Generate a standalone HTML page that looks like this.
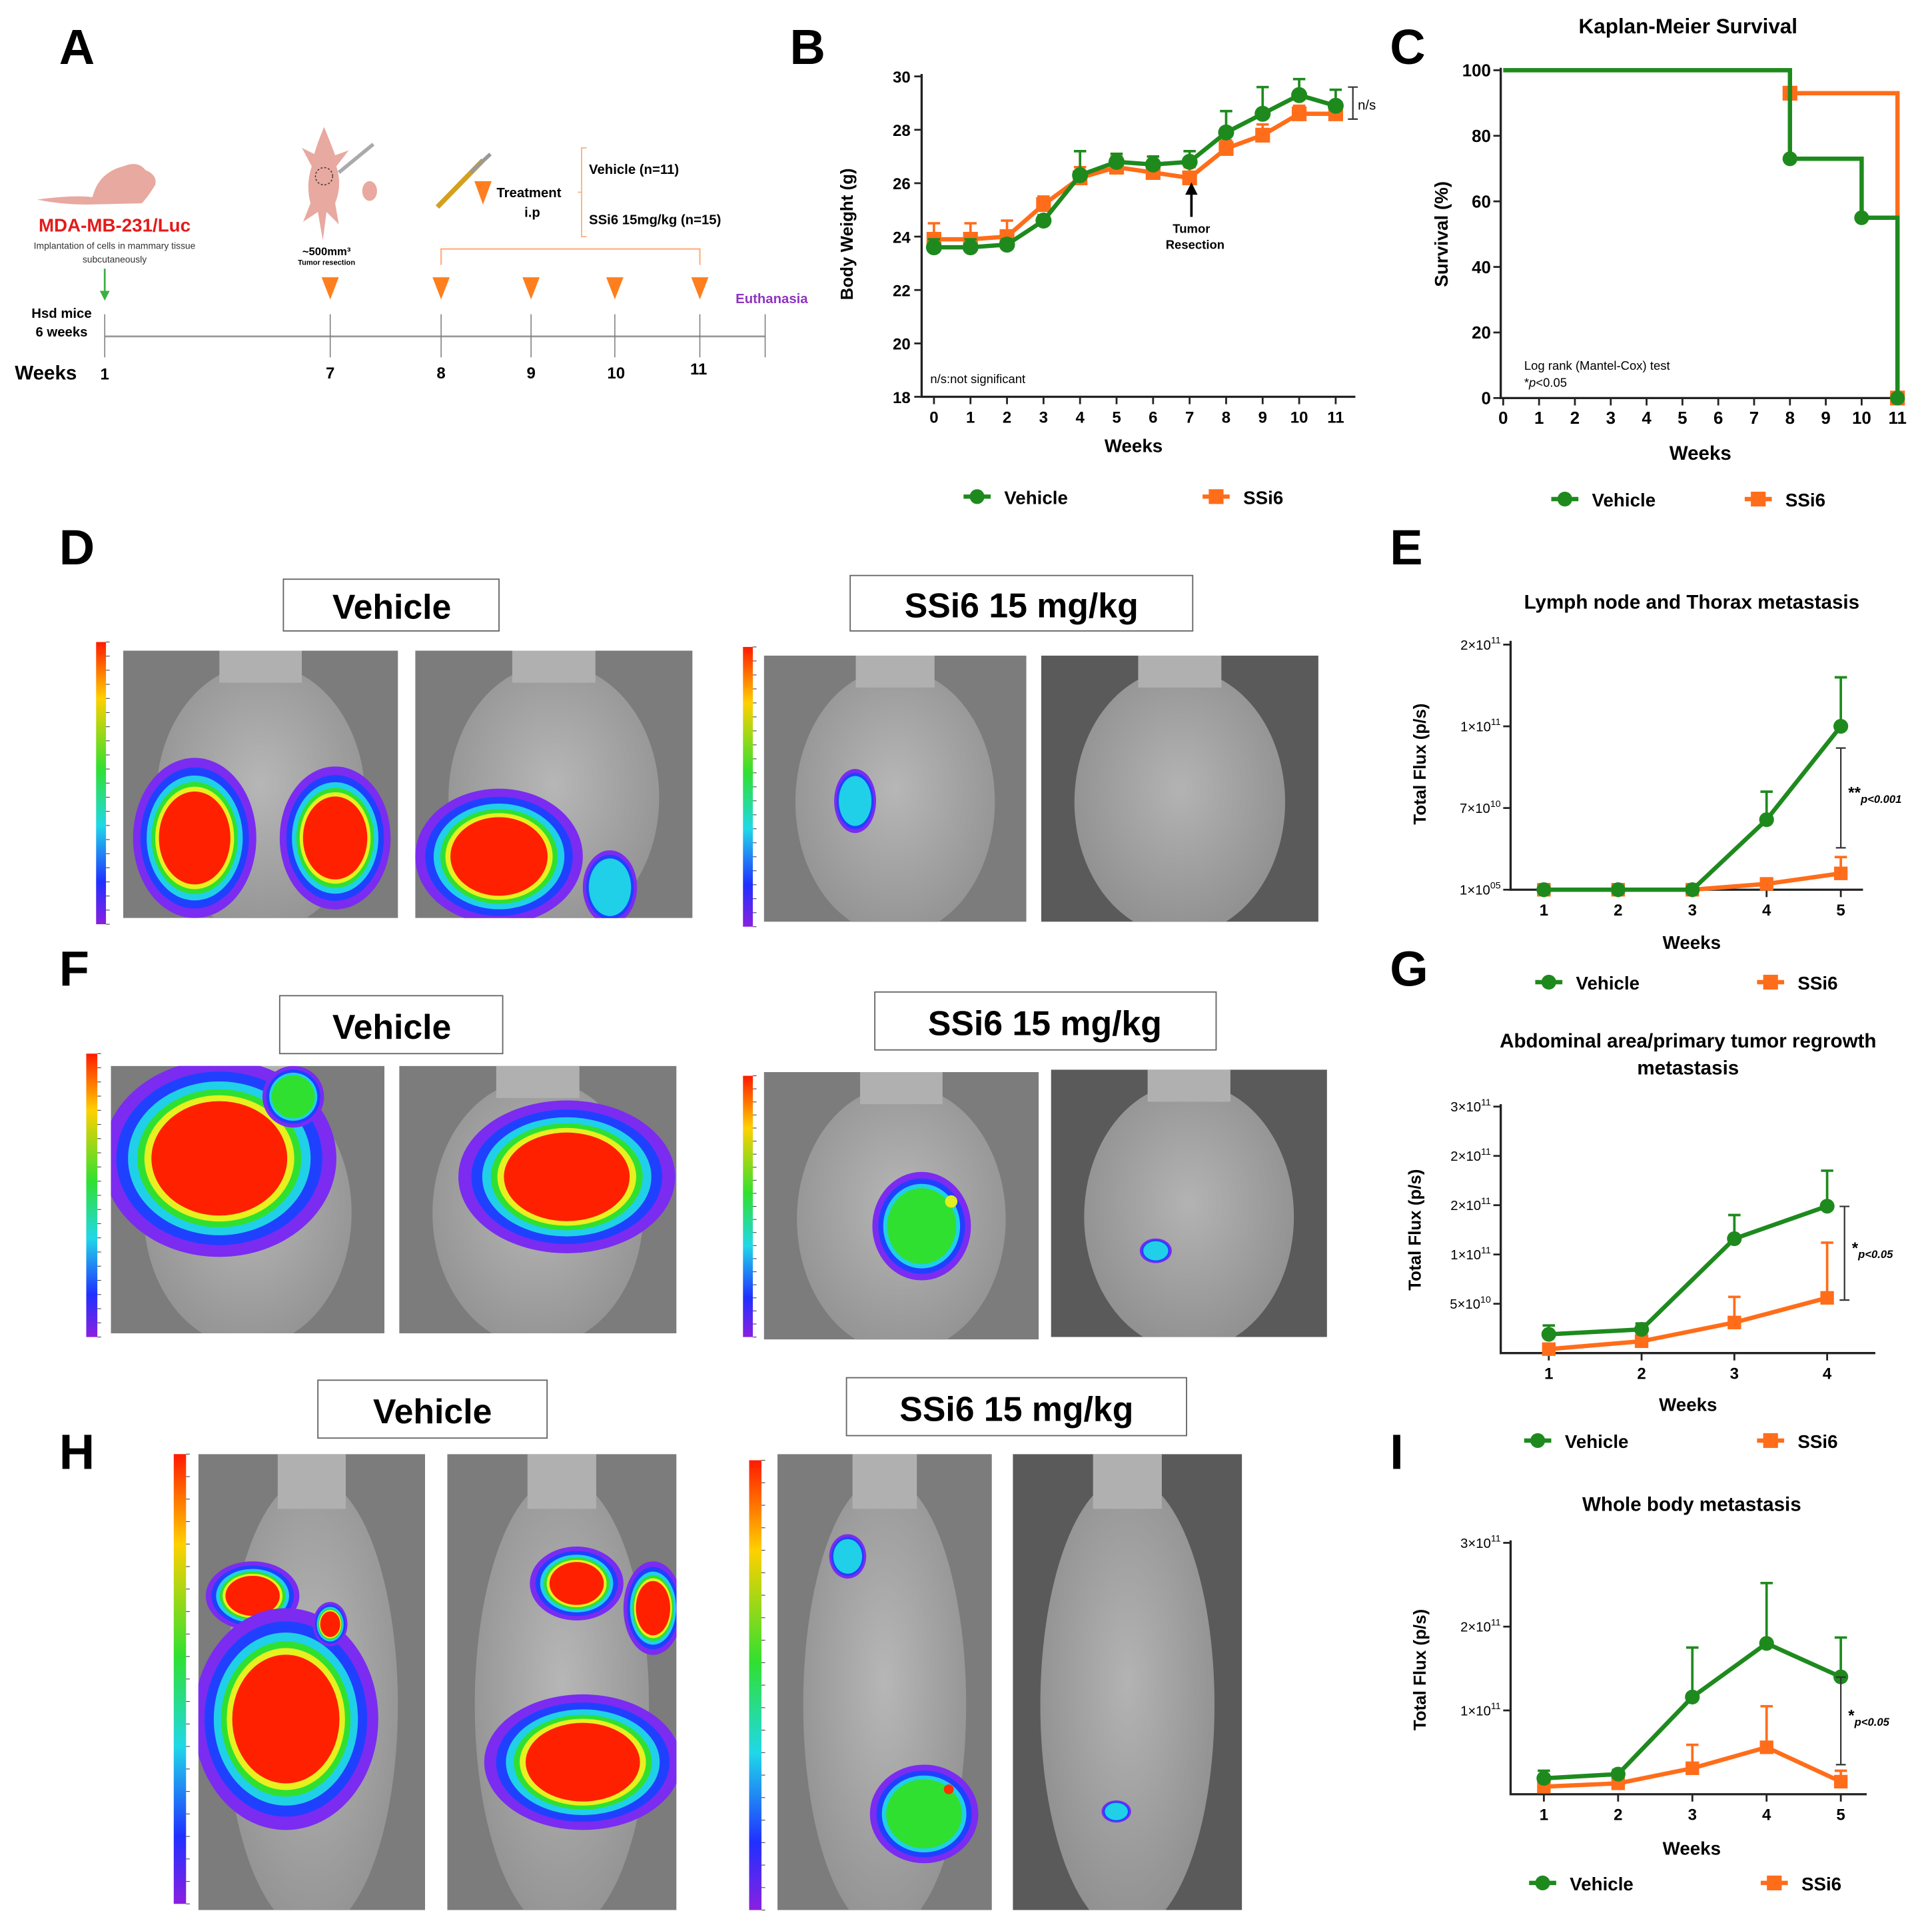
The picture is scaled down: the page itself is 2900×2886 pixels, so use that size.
<!DOCTYPE html>
<html><head><meta charset="utf-8"><style>
html,body{margin:0;padding:0;background:#fff;}
svg{display:block;font-family:"Liberation Sans",sans-serif;}
.b{font-weight:bold;}
</style></head><body>
<svg id="fig" width="2900" height="2886" viewBox="0 0 1568 1560.5" preserveAspectRatio="none" xmlns="http://www.w3.org/2000/svg">
<defs id="defs">
<linearGradient id="cbar" x1="0" y1="0" x2="0" y2="1">
<stop offset="0" stop-color="#ff1a00"/><stop offset="0.2" stop-color="#ffd000"/><stop offset="0.45" stop-color="#30e030"/><stop offset="0.65" stop-color="#20d8e8"/><stop offset="0.85" stop-color="#2030ff"/><stop offset="1" stop-color="#8a20e0"/>
</linearGradient>
<radialGradient id="body" cx="0.5" cy="0.45" r="0.6"><stop offset="0" stop-color="#bdbdbd"/><stop offset="1" stop-color="#939393"/></radialGradient>
</defs>
<text x="48" y="52" class="b" font-size="40">A</text>
<text x="641" y="52" class="b" font-size="40">B</text>
<text x="1128" y="52" class="b" font-size="40">C</text>
<text x="48" y="458" class="b" font-size="40">D</text>
<text x="1128" y="458" class="b" font-size="40">E</text>
<text x="48" y="800" class="b" font-size="40">F</text>
<text x="1128" y="800" class="b" font-size="40">G</text>
<text x="48" y="1192" class="b" font-size="40">H</text>
<text x="1128" y="1192" class="b" font-size="40">I</text>

<g>
<path d="M30,162 Q60,158 75,160 Q80,140 100,135 Q112,130 118,138 Q128,142 126,150 Q120,160 115,165 L70,166 Q50,166 30,162Z" fill="#e8a9a0"/>
<text x="93" y="188" text-anchor="middle" class="b" font-size="15" fill="#e41a1a">MDA-MB-231/Luc</text>
<text x="93" y="202" text-anchor="middle" font-size="7.5" fill="#333">Implantation of cells in mammary tissue</text>
<text x="93" y="213" text-anchor="middle" font-size="7.5" fill="#333">subcutaneously</text>
<line x1="85" y1="218" x2="85" y2="240" stroke="#3cb043" stroke-width="1.5"/>
<path d="M81,236 L85,244 L89,236Z" fill="#3cb043"/>
<text x="50" y="258" text-anchor="middle" class="b" font-size="11">Hsd mice</text>
<text x="50" y="273" text-anchor="middle" class="b" font-size="11">6 weeks</text>
<line x1="85" y1="273" x2="621" y2="273" stroke="#999" stroke-width="1.5"/>
<g stroke="#777" stroke-width="0.8">
<line x1="85" y1="255" x2="85" y2="290"/><line x1="268" y1="255" x2="268" y2="290"/><line x1="358" y1="255" x2="358" y2="290"/><line x1="431" y1="255" x2="431" y2="290"/><line x1="499" y1="255" x2="499" y2="290"/><line x1="568" y1="255" x2="568" y2="290"/><line x1="621" y1="255" x2="621" y2="290"/>
</g>
<text x="12" y="308" class="b" font-size="16">Weeks</text>
<g class="b" font-size="13" text-anchor="middle">
<text x="85" y="308">1</text><text x="268" y="307">7</text><text x="358" y="307">8</text><text x="431" y="307">9</text><text x="500" y="307">10</text><text x="567" y="304">11</text></g>
<g fill="#ff7f1e">
<path d="M261,225 L275,225 L268,243Z"/><path d="M351,225 L365,225 L358,243Z"/><path d="M424,225 L438,225 L431,243Z"/><path d="M492,225 L506,225 L499,243Z"/><path d="M561,225 L575,225 L568,243Z"/><path d="M385,147 L399,147 L392,166Z"/></g>
<path d="M358,215 L358,202 L568,202 L568,215" fill="none" stroke="#ffb080" stroke-width="1.2"/>
<text x="597" y="246" class="b" font-size="11" fill="#8e35c0">Euthanasia</text>
<path d="M263,103 Q258,115 255,125 L245,120 L253,135 Q248,150 252,165 L246,180 L258,172 L262,195 L265,172 L275,182 L272,165 Q278,150 273,135 L283,122 L272,126 Q268,115 263,103Z" fill="#e8a9a0"/>
<circle cx="263" cy="143" r="7" fill="none" stroke="#333" stroke-dasharray="1.5,1.5" stroke-width="0.8"/>
<line x1="275" y1="140" x2="303" y2="117" stroke="#aaa" stroke-width="3"/>
<ellipse cx="300" cy="155" rx="6" ry="8" fill="#e8a9a0"/>
<text x="265" y="207" text-anchor="middle" class="b" font-size="9">~500mm³</text>
<text x="265" y="215" text-anchor="middle" class="b" font-size="6">Tumor resection</text>
<line x1="355" y1="168" x2="392" y2="130" stroke="#d4a020" stroke-width="4"/>
<line x1="382" y1="140" x2="398" y2="125" stroke="#999" stroke-width="3"/>
<text x="403" y="160" class="b" font-size="11">Treatment</text>
<text x="432" y="176" text-anchor="middle" class="b" font-size="11">i.p</text>
<path d="M476,120 L472,120 L472,192 L476,192 M472,156 L469,156" fill="none" stroke="#ffb080" stroke-width="1"/>
<text x="478" y="141" class="b" font-size="11">Vehicle (n=11)</text>
<text x="478" y="182" class="b" font-size="11">SSi6 15mg/kg (n=15)</text>
</g>

<text transform="translate(692,190) rotate(-90)" text-anchor="middle" class="b" font-size="14">Body Weight (g)</text>
<text x="920" y="367" text-anchor="middle" class="b" font-size="15">Weeks</text>
<text x="755" y="311" font-size="10">n/s:not significant</text>
<text x="1370" y="27" text-anchor="middle" class="b" font-size="17">Kaplan-Meier Survival</text>
<text transform="translate(1175,190) rotate(-90)" text-anchor="middle" class="b" font-size="15">Survival (%)</text>
<text x="1380" y="373" text-anchor="middle" class="b" font-size="16">Weeks</text>
<text x="1237" y="300" font-size="10">Log rank (Mantel-Cox) test</text>
<text x="1237" y="314" font-size="10">*<tspan font-style="italic">p</tspan>&lt;0.05</text>
<text x="1373" y="494" text-anchor="middle" class="b" font-size="16">Lymph node and Thorax metastasis</text>
<text transform="translate(1157,620) rotate(-90)" text-anchor="middle" class="b" font-size="14">Total Flux (p/s)</text>
<text x="1373" y="770" text-anchor="middle" class="b" font-size="15">Weeks</text>
<text x="1370" y="850" text-anchor="middle" class="b" font-size="16">Abdominal area/primary tumor regrowth</text>
<text x="1370" y="872" text-anchor="middle" class="b" font-size="16">metastasis</text>
<text transform="translate(1153,998) rotate(-90)" text-anchor="middle" class="b" font-size="14">Total Flux (p/s)</text>
<text x="1370" y="1145" text-anchor="middle" class="b" font-size="15">Weeks</text>
<text x="1373" y="1226" text-anchor="middle" class="b" font-size="16">Whole body metastasis</text>
<text transform="translate(1157,1355) rotate(-90)" text-anchor="middle" class="b" font-size="14">Total Flux (p/s)</text>
<text x="1373" y="1505" text-anchor="middle" class="b" font-size="15">Weeks</text>

<g font-size="28" class="b" text-anchor="middle">
<rect x="230" y="470" width="175" height="42" fill="#fff" stroke="#666"/><text x="318" y="502">Vehicle</text>
<rect x="690" y="467" width="278" height="45" fill="#fff" stroke="#666"/><text x="829" y="501">SSi6 15 mg/kg</text>
<rect x="227" y="808" width="181" height="47" fill="#fff" stroke="#666"/><text x="318" y="843">Vehicle</text>
<rect x="710" y="805" width="277" height="47" fill="#fff" stroke="#666"/><text x="848" y="840">SSi6 15 mg/kg</text>
<rect x="258" y="1120" width="186" height="47" fill="#fff" stroke="#666"/><text x="351" y="1155">Vehicle</text>
<rect x="687" y="1118" width="276" height="47" fill="#fff" stroke="#666"/><text x="825" y="1153">SSi6 15 mg/kg</text>
</g>
<g id="photos"></g>
<g id="charts"></g>
</svg>
<script>
const bWeeks=[0,1,2,3,4,5,6,7,8,9,10,11];
const bVehicle=[23.6,23.6,23.7,24.6,26.3,26.8,26.7,26.8,27.9,28.6,29.3,28.9];
const bVehicleErr=[0.3,0.3,0.2,0.2,0.9,0.3,0.3,0.4,0.8,1.0,0.6,0.6];
const bSsi6=[23.9,23.9,24.0,25.2,26.2,26.6,26.4,26.2,27.3,27.8,28.6,28.6];
const bSsi6Err=[0.6,0.6,0.6,0.3,0.4,0.4,0.4,0.4,0.3,0.4,0.3,0.3];
const bYTicks=[18,20,22,24,26,28,30];
const cXTicks=[0,1,2,3,4,5,6,7,8,9,10,11];
const cYTicks=[0,20,40,60,80,100];
const cVehTimes=[0,8,10,11];
const cVehSurv=[100,73,55,0];
const cSsiTimes=[8,11];
const cSsiSurv=[93,0];
const eWeeks=[1,2,3,4,5];
const eVehicle=[1e5,1e5,1e5,6e10,1e11];
const eVehicleErr=[0,0,0,1.6e10,6e10];
const eSsi6=[1e5,1e5,1e5,5e9,1.4e10];
const eSsi6Err=[0,0,0,3e9,1.4e10];
const eTickVals=[1e5,7e10,1e11,2e11];
const eTickMant=["1","7","1","2"];
const eTickExp=["05","10","11","11"];
const gWeeks=[1,2,3,4];
const gVehicle=[1.9e10,2.4e10,1.16e11,1.49e11];
const gVehicleErr=[9e9,6e9,2.4e10,3.6e10];
const gSsi6=[4e9,1.2e10,3.1e10,5.6e10];
const gSsi6Err=[3e9,6e9,2.6e10,5.6e10];
const gTickVals=[5e10,1e11,1.5e11,2e11,2.5e11];
const gTickMant=["5","1","2","2","3"];
const gTickExp=["10","11","11","11","11"];
const iWeeks=[1,2,3,4,5];
const iVehicle=[1.9e10,2.4e10,1.16e11,1.8e11,1.4e11];
const iVehicleErr=[9e9,5e9,5.9e10,7.2e10,4.7e10];
const iSsi6=[9e9,1.3e10,3.1e10,5.6e10,1.5e10];
const iSsi6Err=[3e9,6e9,2.8e10,4.9e10,1.3e10];
const iTickVals=[1e11,2e11,3e11];
const iTickMant=["1","2","3"];
const iTickExp=["11","11","11"];

const NS='http://www.w3.org/2000/svg';
const GREEN='#1e8a1e', ORANGE='#ff6d1a';
function mk(parent,tag,attrs){const e=document.createElementNS(NS,tag);for(const k in attrs)e.setAttribute(k,attrs[k]);parent.appendChild(e);return e;}
const charts=document.getElementById('charts');

function marker(g,x,y,isVeh,s){
  let m;
  if(isVeh){m=mk(g,'circle',{cx:x,cy:y,r:s,fill:GREEN});}
  else{m=mk(g,'rect',{x:x-s,y:y-s,width:2*s,height:2*s,fill:ORANGE});}
  return m;
}
function sciLabel(g,x,y,mant,exp,fs){
  const t=mk(g,'text',{x:x,y:y,'text-anchor':'end','font-size':fs});
  
  
  t.textContent=mant+'×10';
  const s=mk(t,'tspan',{dy:-5,'font-size':fs*0.7});s.textContent=exp;
}
function series(g,xs,vals,errs,X,Y,isVeh,name,s){
  const col=isVeh?GREEN:ORANGE;
  for(let i=0;i<xs.length;i++){
    const x=X(xs[i]),y=Y(vals[i]),yt=Y(vals[i]+errs[i]);
    if(errs[i]>0){
      const eb=mk(g,'path',{d:`M${x},${y} L${x},${yt} M${x-5},${yt} L${x+5},${yt}`,stroke:col,'stroke-width':2,fill:'none'});
      
      
    }
  }
  const pts=xs.map((w,i)=>X(w)+','+Y(vals[i])).join(' ');
  const ln=mk(g,'polyline',{points:pts,fill:'none',stroke:col,'stroke-width':3.5});
  
  
  for(let i=0;i<xs.length;i++){
    const m=marker(g,X(xs[i]),Y(vals[i]),isVeh,s);
    
    
  }
}
function axes(g,x0,y0,x1,y1){
  mk(g,'path',{d:`M${x0},${y1} L${x0},${y0} L${x1},${y0}`,fill:'none',stroke:'#222','stroke-width':1.8});
}
function xTicks(g,vals,X,y0,fs){
  vals.forEach(v=>{
    mk(g,'line',{x1:X(v),y1:y0,x2:X(v),y2:y0+6,stroke:'#222','stroke-width':1.5});
    const t=mk(g,'text',{x:X(v),y:y0+21,'text-anchor':'middle','font-size':fs,'font-weight':'bold'});
    
    
    t.textContent=v;
  });
}
function legend(g,x1,x2,y,name){
  const m1=marker(g,x1,y,true,6);mk(g,'line',{x1:x1-11,y1:y,x2:x1+11,y2:y,stroke:GREEN,'stroke-width':3.5});
  
  
  const t1=mk(g,'text',{x:x1+22,y:y+6,'font-size':15,'font-weight':'bold'});t1.textContent='Vehicle';
  
  
  const m2=marker(g,x2,y,false,6);mk(g,'line',{x1:x2-11,y1:y,x2:x2+11,y2:y,stroke:ORANGE,'stroke-width':3.5});
  
  
  const t2=mk(g,'text',{x:x2+22,y:y+6,'font-size':15,'font-weight':'bold'});t2.textContent='SSi6';
  
  
}
function sigBracket(g,x,ya,yb,star,p){
  mk(g,'path',{d:`M${x-4},${ya} L${x+4},${ya} M${x},${ya} L${x},${yb} M${x-4},${yb} L${x+4},${yb}`,stroke:'#333','stroke-width':1.2,fill:'none'});
  const t=mk(g,'text',{x:x+6,y:(ya+yb)/2,'font-size':13,'font-weight':'bold'});t.textContent=star;
  
  
  const s=mk(t,'tspan',{'font-size':9,'font-style':'italic',dy:4});s.textContent=p;
}

(function(){
  const g=mk(charts,'g',{});
  
  
  const X=w=>758+w*29.64, Y=v=>322-(v-18)*260/12;
  axes(g,748,322,1100,60);
  bYTicks.forEach(v=>{mk(g,'line',{x1:742,y1:Y(v),x2:748,y2:Y(v),stroke:'#222','stroke-width':1.5});
    const t=mk(g,'text',{x:739,y:Y(v)+5,'text-anchor':'end','font-size':13,'font-weight':'bold'});t.textContent=v;
    
    });
  xTicks(g,bWeeks,X,322,13);
  series(g,bWeeks,bSsi6,bSsi6Err,X,Y,false,'b-ssi6',6);
  series(g,bWeeks,bVehicle,bVehicleErr,X,Y,true,'b-vehicle',6.5);
  mk(g,'path',{d:`M1094,${Y(29.6)} L1102,${Y(29.6)} M1098,${Y(29.6)} L1098,${Y(28.4)} M1094,${Y(28.4)} L1102,${Y(28.4)}`,stroke:'#333','stroke-width':1.2,fill:'none'});
  const ns=mk(g,'text',{x:1102,y:89,'font-size':11});ns.textContent='n/s';
  
  
  mk(g,'line',{x1:X(7.05),y1:176,x2:X(7.05),y2:156,stroke:'#000','stroke-width':2});
  mk(g,'path',{d:`M${X(7.05)-5},158 L${X(7.05)},148 L${X(7.05)+5},158Z`,fill:'#000'});
  const t1=mk(g,'text',{x:X(7.05),y:189,'text-anchor':'middle','font-size':10,'font-weight':'bold'});t1.textContent='Tumor';
  
  
  const t2=mk(g,'text',{x:X(7.15),y:202,'text-anchor':'middle','font-size':10,'font-weight':'bold'});t2.textContent='Resection';
  
  
  legend(g,793,987,403,'b');
})();

(function(){
  const g=mk(charts,'g',{});
  
  
  const X=w=>1220+w*29.09, Y=p=>323-p*2.66;
  axes(g,1218,323,1545,55);
  cYTicks.forEach(v=>{mk(g,'line',{x1:1212,y1:Y(v),x2:1218,y2:Y(v),stroke:'#222','stroke-width':1.5});
    const t=mk(g,'text',{x:1210,y:Y(v)+5,'text-anchor':'end','font-size':14,'font-weight':'bold'});t.textContent=v;
    
    });
  xTicks(g,cXTicks,X,323,14);
  function step(times,surv,col,name){
    let d=`M${X(times[0])},${Y(surv[0])}`;
    for(let i=1;i<times.length;i++){d+=` L${X(times[i])},${Y(surv[i-1])} L${X(times[i])},${Y(surv[i])}`;}
    const p=mk(g,'path',{d:d,fill:'none',stroke:col,'stroke-width':3.5});
    
    
  }
  step(cSsiTimes,cSsiSurv,ORANGE,'ssi6');
  const m0=marker(g,X(cSsiTimes[0]),Y(cSsiSurv[0]),false,6);
  
  
  const m1=marker(g,X(cSsiTimes[1]),Y(cSsiSurv[1]),false,6);
  
  
  step(cVehTimes,cVehSurv,GREEN,'vehicle');
  for(let i=1;i<cVehTimes.length;i++){const m=marker(g,X(cVehTimes[i]),Y(cVehSurv[i]),true,6);
    
    }
  legend(g,1270,1427,405,'c');
})();

(function(){
  const g=mk(charts,'g',{});
  
  
  const X=w=>1253+(w-1)*60.25;
  const pos=i=>722-i*66.3;
  const Y=v=>{for(let i=0;i<eTickVals.length-1;i++){if(v<=eTickVals[i+1]){return pos(i)-(v-eTickVals[i])/(eTickVals[i+1]-eTickVals[i])*66.3;}}return pos(eTickVals.length-1);};
  axes(g,1226,722,1512,520);
  eTickVals.forEach((v,i)=>{mk(g,'line',{x1:1220,y1:Y(v),x2:1226,y2:Y(v),stroke:'#222','stroke-width':1.5});sciLabel(g,1218,Y(v)+4,eTickMant[i],eTickExp[i],11);});
  xTicks(g,eWeeks,X,722,13);
  series(g,eWeeks,eSsi6,eSsi6Err,X,Y,false,'e-ssi6',5.5);
  series(g,eWeeks,eVehicle,eVehicleErr,X,Y,true,'e-vehicle',6);
  sigBracket(g,1494,607,688,'**','p<0.001');
  legend(g,1257,1437,797,'e');
})();

(function(){
  const g=mk(charts,'g',{});
  
  
  const X=w=>1257+(w-1)*75.3, Y=v=>1098-v/5e10*40;
  axes(g,1218,1098,1522,896);
  gTickVals.forEach((v,i)=>{mk(g,'line',{x1:1212,y1:Y(v),x2:1218,y2:Y(v),stroke:'#222','stroke-width':1.5});sciLabel(g,1210,Y(v)+4,gTickMant[i],gTickExp[i],11);});
  xTicks(g,gWeeks,X,1098,13);
  series(g,gWeeks,gSsi6,gSsi6Err,X,Y,false,'g-ssi6',5.5);
  series(g,gWeeks,gVehicle,gVehicleErr,X,Y,true,'g-vehicle',6);
  sigBracket(g,1497,979,1055,'*','p<0.05');
  legend(g,1248,1437,1169,'g');
})();

(function(){
  const g=mk(charts,'g',{});
  
  
  const X=w=>1253+(w-1)*60.25, Y=v=>1456-v/1e11*68;
  axes(g,1226,1456,1515,1250);
  iTickVals.forEach((v,i)=>{mk(g,'line',{x1:1220,y1:Y(v),x2:1226,y2:Y(v),stroke:'#222','stroke-width':1.5});sciLabel(g,1218,Y(v)+4,iTickMant[i],iTickExp[i],11);});
  xTicks(g,iWeeks,X,1456,13);
  series(g,iWeeks,iSsi6,iSsi6Err,X,Y,false,'i-ssi6',5.5);
  series(g,iWeeks,iVehicle,iVehicleErr,X,Y,true,'i-vehicle',6);
  sigBracket(g,1494,1361,1432,'*','p<0.05');
  legend(g,1252,1440,1528,'i');
})();

const photos=document.getElementById('photos');
const defs=document.getElementById('defs');
const layerCols=['#7b2cf0','#2040ff','#20d0e8','#30e030','#e8f020','#ff2000'];
const layerScale=[1,0.88,0.78,0.7,0.64,0.58];
let clipN=0;
function photo(x,y,w,h,dark){
  clipN++;
  const cp=mk(defs,'clipPath',{id:'pc'+clipN});
  mk(cp,'rect',{x:x,y:y,width:w,height:h});
  const g=mk(photos,'g',{'clip-path':'url(#pc'+clipN+')'});
  const r=mk(g,'rect',{x:x,y:y,width:w,height:h,fill:dark?'#5a5a5a':'#7c7c7c'});
  
  
  mk(g,'ellipse',{cx:x+w/2,cy:y+h*0.55,rx:w*0.38,ry:h*0.5,fill:'url(#body)',opacity:0.9});
  mk(g,'rect',{x:x+w*0.35,y:y,width:w*0.3,height:h*0.12,fill:'#b0b0b0'});
  return g;
}
function blob(g,cx,cy,rx,ry,levels){
  for(let i=0;i<levels;i++){
    mk(g,'ellipse',{cx:cx,cy:cy,rx:rx*layerScale[i],ry:ry*layerScale[i],fill:layerCols[i]});
  }
}
function cbar(x,y,w,h){
  const r=mk(photos,'rect',{x:x,y:y,width:w,height:h,fill:'url(#cbar)'});
  
  
  for(let i=0;i<=20;i++){mk(photos,'line',{x1:x+w,y1:y+i*h/20,x2:x+w+3,y2:y+i*h/20,stroke:'#444','stroke-width':0.6});}
}
cbar(78,521,8,229);cbar(603,525,8,227);cbar(70,855,9,230);cbar(603,873,8,212);cbar(141,1180,10,365);cbar(608,1185,10,365);
let p;
p=photo(100,528,223,217);blob(p,158,680,50,65,6);blob(p,272,680,45,58,6);
p=photo(337,528,225,217);blob(p,405,695,68,55,6);blob(p,495,720,22,30,3);
p=photo(620,532,213,216);blob(p,694,650,17,26,3);
p=photo(845,532,225,216,true);
p=photo(90,865,222,217);blob(p,178,940,95,80,6);blob(p,238,890,25,25,4);
p=photo(324,865,225,217);blob(p,460,955,88,62,6);
p=photo(620,870,223,217);blob(p,748,995,40,44,4);mk(p,'circle',{cx:772,cy:975,r:5,fill:'#e0f020'});
p=photo(853,868,224,217,true);blob(p,938,1015,13,10,3);
p=photo(161,1180,184,370);blob(p,205,1295,38,28,6);blob(p,232,1395,75,90,6);blob(p,268,1318,14,18,6);
p=photo(363,1180,186,370);blob(p,468,1285,38,30,6);blob(p,530,1305,24,38,6);blob(p,473,1430,80,55,6);
p=photo(631,1180,174,370);blob(p,688,1263,15,18,3);blob(p,750,1472,44,40,4);mk(p,'circle',{cx:770,cy:1452,r:4,fill:'#ff3000'});
p=photo(822,1180,186,370,true);blob(p,906,1470,12,9,3);
</script>
</body></html>
